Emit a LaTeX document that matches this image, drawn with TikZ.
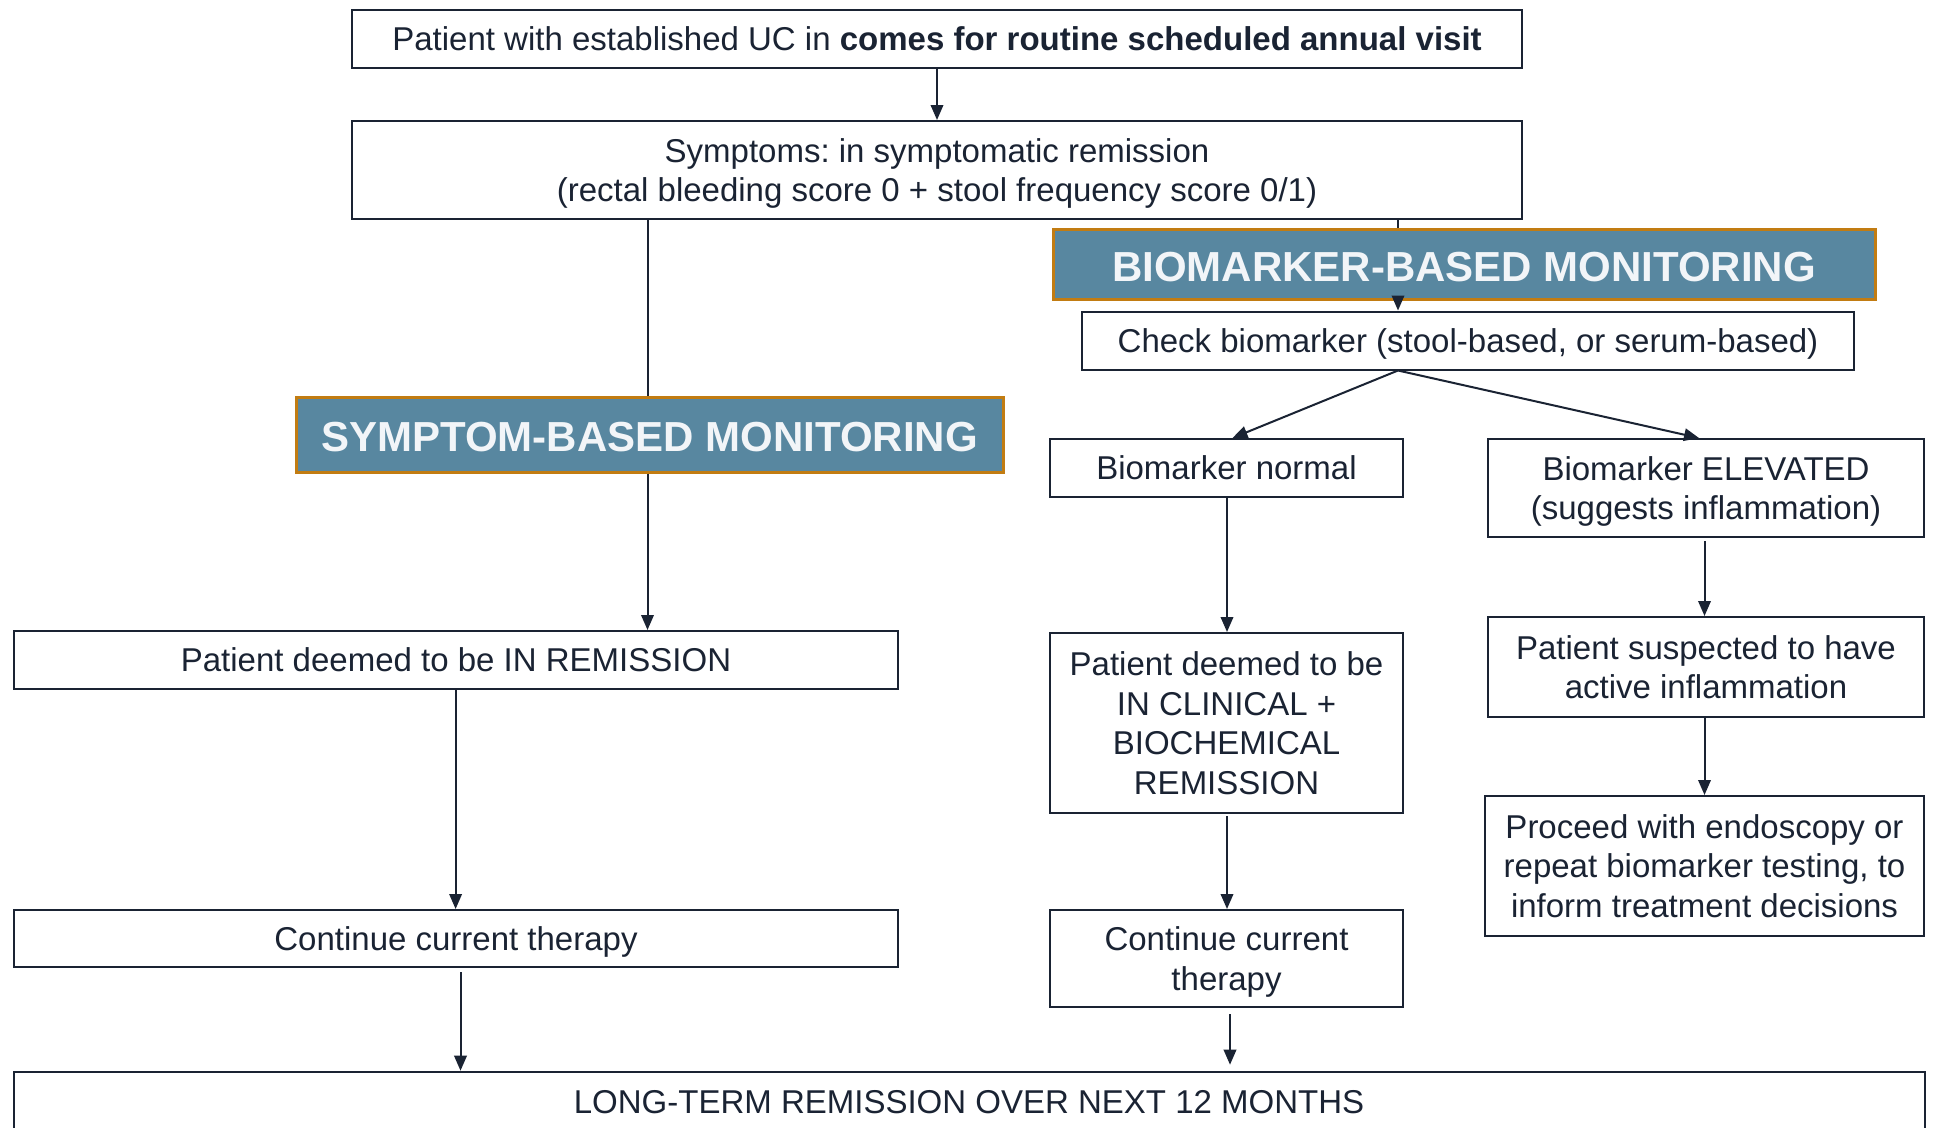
\documentclass[tikz,border=0pt]{standalone}
\usepackage{fontspec}
\setmainfont{Liberation Sans}
\usetikzlibrary{arrows.meta}
\definecolor{ink}{RGB}{26,35,51}
\definecolor{bannerfill}{RGB}{88,135,160}
\definecolor{bannerline}{RGB}{194,124,18}
\definecolor{bannertext}{RGB}{242,245,248}
\frenchspacing
\begin{document}
\begin{tikzpicture}[x=1pt,y=-1pt,
  box/.style={draw=ink,line width=2pt,fill=white,text=ink,inner sep=0pt,align=center,
    text depth=0pt,font=\fontsize{33}{39.5}\selectfont},
  banner/.style={draw=bannerline,line width=3pt,fill=bannerfill,text=bannertext,inner sep=0pt,
    text height=34pt,text depth=0pt,font=\fontsize{42}{48}\selectfont\bfseries},
  conn/.style={draw=ink,line width=2pt},
  arr/.style={conn,-{Triangle[length=15pt,width=12.5pt]}}]
\clip (0,0) rectangle (1935,1127);
\fill[white] (0,0) rectangle (1935,1127);
% nodes
\node[box,minimum width=1170pt,minimum height=58pt] (top) at (937,38.6)
  {Patient with established UC in \textbf{comes for routine scheduled annual visit}};
\node[box,minimum width=1170pt,minimum height=98pt] (symp) at (937,170)
  {Symptoms: in symptomatic remission\\(rectal bleeding score 0 + stool frequency score 0/1)};
\node[banner,minimum width=707pt,minimum height=75pt] (sban) at (649.5,434.5)
  {SYMPTOM-BASED MONITORING};
\node[banner,minimum width=822pt,minimum height=70pt] (bban) at (1464,264)
  {BIOMARKER-BASED MONITORING};
\node[box,minimum width=772pt,minimum height=58pt] (check) at (1468,340.5)
  {Check biomarker (stool-based, or serum-based)};
\node[box,minimum width=353pt,minimum height=58pt] (normal) at (1226.5,468)
  {Biomarker normal};
\node[box,minimum width=436pt,minimum height=98pt] (elev) at (1706,488)
  {Biomarker ELEVATED\\(suggests inflammation)};
\node[box,minimum width=884pt,minimum height=58pt] (rem) at (456,660)
  {Patient deemed to be IN REMISSION};
\node[box,minimum width=884pt,minimum height=57pt] (cont1) at (456,938.5)
  {Continue current therapy};
\node[box,minimum width=353pt,minimum height=180pt] (clin) at (1226.5,723)
  {Patient deemed to be\\IN CLINICAL +\\BIOCHEMICAL\\REMISSION};
\node[box,minimum width=353pt,minimum height=97pt] (cont2) at (1226.5,958.5)
  {Continue current\\therapy};
\node[box,minimum width=436pt,minimum height=100pt] (susp) at (1706,667)
  {Patient suspected to have\\active inflammation};
\node[box,minimum width=439pt,minimum height=140pt] (proc) at (1704.5,866)
  {Proceed with endoscopy or\\repeat biomarker testing, to\\inform treatment decisions};
\node[box,minimum width=1911pt,minimum height=60pt] (long) at (969,1101.7)
  {LONG-TERM REMISSION OVER NEXT 12 MONTHS};
\coordinate (bx) at (1398,0);
\coordinate (lx) at (647.5,0);
\coordinate (c1x) at (455.6,0);
\coordinate (c2x) at (460.5,0);
\coordinate (nx) at (1227,0);
\coordinate (n2x) at (1230,0);
\coordinate (ex) at (1704.5,0);
% connectors
\draw[arr] (top.south) -- (symp.north);
\draw[conn] (symp.south -| lx) -- (sban.north -| lx);
\draw[arr] (sban.south -| lx) -- (rem.north -| lx);
\draw[conn] (symp.south -| bx) -- (bban.north -| bx);
\draw[arr] (bban.south -| bx) -- (check.north -| bx);
\draw[arr] (check.south -| bx) -- ([xshift=6pt]normal.north);
\draw[arr] (check.south -| bx) -- ([xshift=-7pt]elev.north);
\draw[arr] (rem.south -| c1x) -- (cont1.north -| c1x);
\draw[arr,shorten <=4pt] (cont1.south -| c2x) -- (long.north -| c2x);
\draw[arr] (normal.south -| nx) -- (clin.north -| nx);
\draw[arr,shorten <=2pt] (clin.south -| nx) -- (cont2.north -| nx);
\draw[arr,shorten <=6pt,shorten >=6pt] (cont2.south -| n2x) -- (long.north -| n2x);
\draw[arr,shorten <=3pt] (elev.south -| ex) -- (susp.north -| ex);
\draw[arr] (susp.south -| ex) -- (proc.north -| ex);
\end{tikzpicture}
\end{document}
